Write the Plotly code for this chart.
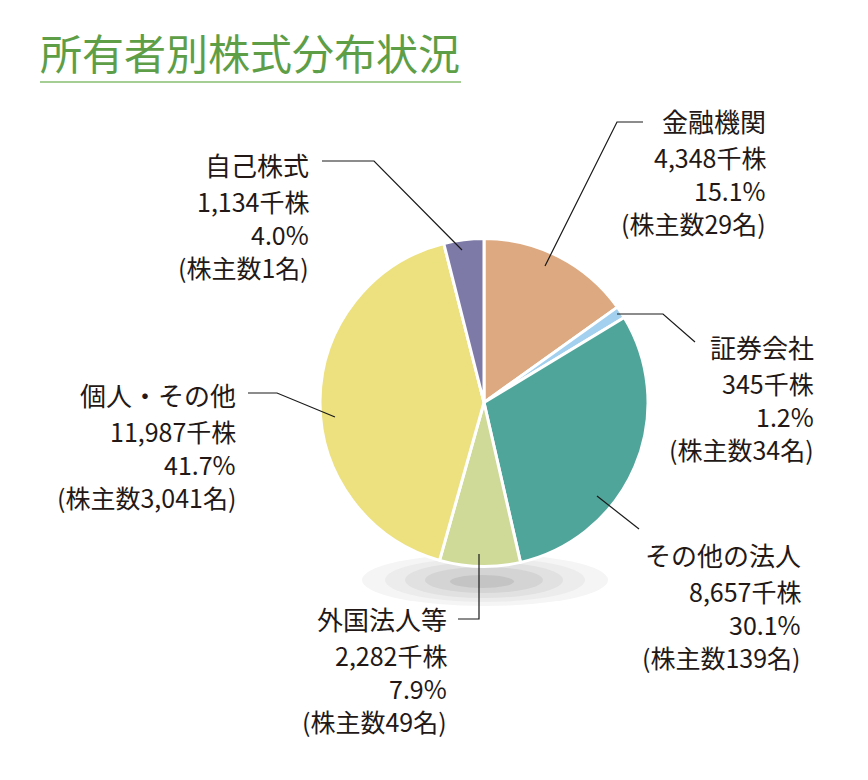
import plotly.graph_objects as go

# ---- data ----
categories = ["金融機関", "証券会社", "その他の法人", "外国法人等", "個人・その他", "自己株式"]
shares_k = [4348, 345, 8657, 2282, 11987, 1134]          # 千株
share_labels = ["4,348千株", "345千株", "8,657千株", "2,282千株", "11,987千株", "1,134千株"]
pct_labels = ["15.1%", "1.2%", "30.1%", "7.9%", "41.7%", "4.0%"]
holder_labels = ["(株主数29名)", "(株主数34名)", "(株主数139名)", "(株主数49名)", "(株主数3,041名)", "(株主数1名)"]
colors = ["#DCA981", "#A3D0EE", "#50A59A", "#CFD998", "#ECE07F", "#7D7AA8"]

W, H = 868, 780
def px(x): return x / W
def py(y): return 1 - y / H

FONT = "Noto Sans CJK JP"
TXT = "#231815"

fig = go.Figure()
fig.add_trace(go.Pie(
    labels=categories, values=shares_k, sort=False, direction="clockwise", rotation=0,
    marker=dict(colors=colors, line=dict(color="white", width=3)),
    textinfo="none", hoverinfo="label+value", showlegend=False,
    domain=dict(x=[px(320), px(648)], y=[py(567), py(238)]),
))

shapes = []
# soft shadow under the pie
for (x0, x1, y0, y1, c) in [(362, 608, 554, 606, "#F5F5F5"), (385, 585, 558, 602, "#ECECEC"),
                            (405, 563, 562, 598, "#E1E1E1"), (425, 543, 567, 593, "#D4D4D4"),
                            (450, 514, 575, 588, "#C4C4C4")]:
    shapes.append(dict(type="circle", xref="paper", yref="paper", layer="below",
                       x0=px(x0), x1=px(x1), y0=py(y1), y1=py(y0),
                       fillcolor=c, line=dict(width=0)))

# title underline
shapes.append(dict(type="line", xref="paper", yref="paper", x0=px(40), x1=px(461), y0=py(82), y1=py(82),
                   line=dict(color="#86BE6F", width=1.5)))

# leader lines (pixel paths)
leaders = [
    [(545, 266), (617, 122), (643, 122)],
    [(617, 314), (663, 314), (695, 342)],
    [(597, 496), (639, 529)],
    [(479, 554), (479, 619), (458, 619)],
    [(335, 417), (277, 393), (248, 393)],
    [(462, 250), (374, 161), (322, 161)],
]
for pts in leaders:
    d = "M " + " L ".join(f"{px(x)},{py(y)}" for x, y in pts)
    shapes.append(dict(type="path", xref="paper", yref="paper", path=d,
                       line=dict(color="#1a1a1a", width=1.2)))

annotations = [dict(text="所有者別株式分布状況", x=px(38), y=py(52), xref="paper", yref="paper",
                    xanchor="left", yanchor="middle", showarrow=False,
                    font=dict(family=FONT, size=42, color="#5E9E47"))]

# label blocks: right edge x, y centre of first line
label_pos = [(768, 120), (816, 346), (803, 554), (449, 618), (238, 394), (311, 164)]
line_offsets = [0, 37, 70, 103]
line_sizes = [26, 25, 25, 25]
for i, (xr, y0) in enumerate(label_pos):
    lines = [categories[i], share_labels[i], pct_labels[i], holder_labels[i]]
    for t, dy, fs in zip(lines, line_offsets, line_sizes):
        annotations.append(dict(text=t, x=px(xr), y=py(y0 + dy), xref="paper", yref="paper",
                                xanchor="right", yanchor="middle", showarrow=False,
                                font=dict(family=FONT, size=fs, color=TXT)))

fig.update_layout(width=W, height=H, margin=dict(l=0, r=0, t=0, b=0),
                  paper_bgcolor="white", plot_bgcolor="white",
                  shapes=shapes, annotations=annotations)
fig.write_html("out.html")
